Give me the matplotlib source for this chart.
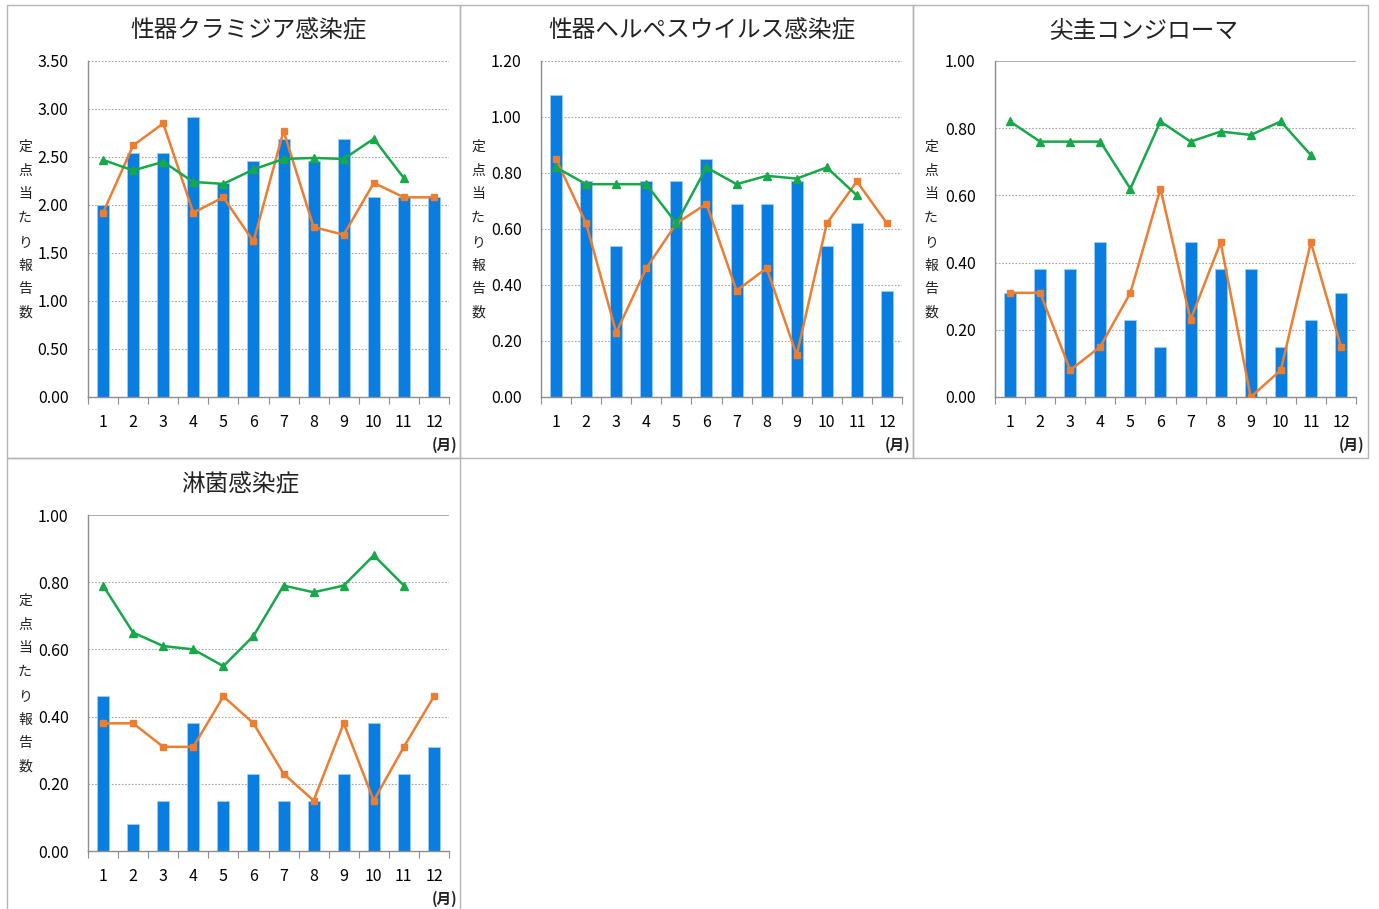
import matplotlib.pyplot as plt
from matplotlib.patches import Rectangle

plt.rcParams['font.family'] = ['Noto Sans CJK JP', 'DejaVu Sans']

months = [str(m) for m in range(1, 13)]
ylabel_chars = ["定", "点", "当", "た", "り", "報", "告", "数"]

# 性器クラミジア感染症
chl_bar = [2.00, 2.54, 2.54, 2.92, 2.23, 2.46, 2.69, 2.46, 2.69, 2.08, 2.08, 2.08]
chl_prev = [1.92, 2.62, 2.85, 1.92, 2.08, 1.62, 2.77, 1.77, 1.69, 2.23, 2.08, 2.08]
chl_avg = [2.47, 2.36, 2.45, 2.24, 2.22, 2.37, 2.48, 2.49, 2.48, 2.69, 2.28]

# 性器ヘルペスウイルス感染症
her_bar = [1.08, 0.77, 0.54, 0.77, 0.77, 0.85, 0.69, 0.69, 0.77, 0.54, 0.62, 0.38]
her_prev = [0.85, 0.62, 0.23, 0.46, 0.62, 0.69, 0.38, 0.46, 0.15, 0.62, 0.77, 0.62]
her_avg = [0.82, 0.76, 0.76, 0.76, 0.62, 0.82, 0.76, 0.79, 0.78, 0.82, 0.72]

# 尖圭コンジローマ
con_bar = [0.31, 0.38, 0.38, 0.46, 0.23, 0.15, 0.46, 0.38, 0.38, 0.15, 0.23, 0.31]
con_prev = [0.31, 0.31, 0.08, 0.15, 0.31, 0.62, 0.23, 0.46, 0.00, 0.08, 0.46, 0.15]
con_avg = [0.82, 0.76, 0.76, 0.76, 0.62, 0.82, 0.76, 0.79, 0.78, 0.82, 0.72]

# 淋菌感染症
gon_bar = [0.46, 0.08, 0.15, 0.38, 0.15, 0.23, 0.15, 0.15, 0.23, 0.38, 0.23, 0.31]
gon_prev = [0.38, 0.38, 0.31, 0.31, 0.46, 0.38, 0.23, 0.15, 0.38, 0.15, 0.31, 0.46]
gon_avg = [0.79, 0.65, 0.61, 0.60, 0.55, 0.64, 0.79, 0.77, 0.79, 0.88, 0.79]

W, H = 1379, 909
fig = plt.figure(figsize=(W / 100, H / 100), dpi=100)

BLUE = '#0a7ee0'
ORANGE = '#ed7d31'
GREEN = '#17a84a'
GRID = '#a6a6a6'
AXIS = '#8c8c8c'


def fx(x):
    return x / W


def fy(y):
    return 1 - y / H


panels = [
    # title, bars, prev, avg, ymax, step, box(x0,y0,x1,y1), plot(l,t,r,b), title_x, solid_top
    ("性器クラミジア感染症", chl_bar, chl_prev, chl_avg, 3.5, 0.5,
     (7, 5, 460, 458), (88, 61, 449, 397), 248, False),
    ("性器ヘルペスウイルス感染症", her_bar, her_prev, her_avg, 1.2, 0.2,
     (460, 5, 913, 458), (541, 61, 902, 397), 702, False),
    ("尖圭コンジローマ", con_bar, con_prev, con_avg, 1.0, 0.2,
     (913, 5, 1368, 458), (995, 61, 1356, 397), 1144, True),
    ("淋菌感染症", gon_bar, gon_prev, gon_avg, 1.0, 0.2,
     (7, 458, 460, 912), (88, 515, 449, 851), 240, True),
]

for title, bars, prev, avg, ymax, step, box, plot, tx, solid_top in panels:
    bx0, by0, bx1, by1 = box
    fig.patches.append(Rectangle((fx(bx0), fy(by1)), fx(bx1 - bx0), (by1 - by0) / H,
                                 transform=fig.transFigure, fill=False,
                                 edgecolor='#b4b4b4', linewidth=1.0))
    l, t, r, b = plot
    ax = fig.add_axes([fx(l), fy(b), fx(r - l), (b - t) / H])
    x = list(range(12))
    ax.bar(x, bars, width=0.4, color=BLUE, edgecolor='#9fcdf5', linewidth=0.6, zorder=2)
    ax.plot(x, prev, color=ORANGE, marker='s', markersize=4.5, linewidth=1.8, zorder=3)
    ax.plot(x[:len(avg)], avg, color=GREEN, marker='^', markersize=5.5, linewidth=1.8, zorder=4)

    ax.set_xlim(-0.5, 11.5)
    ax.set_ylim(0, ymax)
    yt = [round(i * step, 2) for i in range(int(round(ymax / step)) + 1)]
    ax.set_yticks(yt)
    ax.set_yticklabels([f"{v:.2f}" for v in yt], fontsize=11.5)
    ax.tick_params(axis='y', length=0, pad=14)
    for v in yt[1:]:
        if solid_top and v == yt[-1]:
            ax.axhline(v, color='#a0a0a0', linewidth=1.2, zorder=1)
        else:
            ax.axhline(v, color=GRID, linewidth=0.8, linestyle=(0, (1.5, 1.5)), zorder=1)

    ax.set_xticks([i - 0.5 for i in range(13)])
    ax.set_xticklabels([])
    ax.set_xticks(x, minor=True)
    ax.set_xticklabels(months, minor=True, fontsize=11.5)
    ax.tick_params(axis='x', which='major', length=5, color=AXIS, direction='out')
    ax.tick_params(axis='x', which='minor', length=0, pad=12)

    for s in ['top', 'right']:
        ax.spines[s].set_visible(False)
    for s in ['left', 'bottom']:
        ax.spines[s].set_color(AXIS)
        ax.spines[s].set_linewidth(1.0)

    fig.text(fx(tx), fy(t - 30), title, fontsize=17, ha='center', va='center', color='#222222')

    # vertical y label, one char per line
    lx = bx0 + 18
    for i, ch in enumerate(ylabel_chars):
        fig.text(fx(lx), fy(t + 86 + i * 23.7), ch, fontsize=10, ha='center', va='center',
                 color='#222222')

    fig.text(fx(r - 4), fy(b + 48), "(月)", fontsize=10.5, fontweight='bold',
             ha='center', va='center', color='#222222')

plt.savefig('out.png', dpi=100)
